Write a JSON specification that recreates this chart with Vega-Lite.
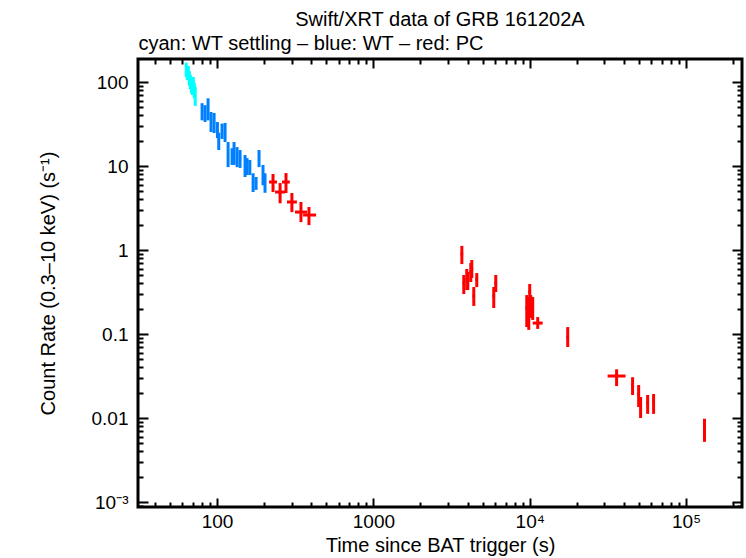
{
  "$schema": "https://vega.github.io/schema/vega-lite/v6.json",
  "width": 604,
  "height": 448,
  "autosize": "none",
  "padding": {"left": 138, "top": 59, "right": 4, "bottom": 51},
  "background": "white",
  "title": {
    "text": "Swift/XRT data of GRB 161202A",
    "anchor": "middle",
    "font": "Liberation Sans",
    "fontSize": 20,
    "fontWeight": "normal",
    "color": "black",
    "offset": 3
  },
  "data": {
    "values": [
      {"t": 63.5, "tlo": 62.6, "thi": 64.4, "r": 140, "rlo": 115, "rhi": 170, "mode": "WT settling"},
      {"t": 64.5, "tlo": 63.6, "thi": 65.4, "r": 125, "rlo": 105, "rhi": 150, "mode": "WT settling"},
      {"t": 65.5, "tlo": 64.6, "thi": 66.4, "r": 130, "rlo": 108, "rhi": 155, "mode": "WT settling"},
      {"t": 66.5, "tlo": 65.6, "thi": 67.4, "r": 110, "rlo": 90, "rhi": 135, "mode": "WT settling"},
      {"t": 67.5, "tlo": 66.6, "thi": 68.4, "r": 100, "rlo": 82, "rhi": 122, "mode": "WT settling"},
      {"t": 68.5, "tlo": 67.6, "thi": 69.4, "r": 92, "rlo": 74, "rhi": 112, "mode": "WT settling"},
      {"t": 69.5, "tlo": 68.6, "thi": 70.4, "r": 86, "rlo": 70, "rhi": 105, "mode": "WT settling"},
      {"t": 70.5, "tlo": 69.6, "thi": 71.4, "r": 95, "rlo": 78, "rhi": 115, "mode": "WT settling"},
      {"t": 71.5, "tlo": 70.6, "thi": 72.4, "r": 80, "rlo": 64, "rhi": 98, "mode": "WT settling"},
      {"t": 72.5, "tlo": 71.6, "thi": 73.4, "r": 70, "rlo": 52, "rhi": 88, "mode": "WT settling"},
      {"t": 80.2, "tlo": 79.0, "thi": 81.4, "r": 45, "rlo": 35, "rhi": 56, "mode": "WT"},
      {"t": 83.8, "tlo": 82.6, "thi": 85.0, "r": 42.8, "rlo": 33.4, "rhi": 53, "mode": "WT"},
      {"t": 87.6, "tlo": 86.3, "thi": 88.9, "r": 47.6, "rlo": 35, "rhi": 64, "mode": "WT"},
      {"t": 91.5, "tlo": 90.1, "thi": 92.9, "r": 33.4, "rlo": 25.4, "rhi": 44, "mode": "WT"},
      {"t": 95.7, "tlo": 94.3, "thi": 97.1, "r": 32.6, "rlo": 24.7, "rhi": 42.8, "mode": "WT"},
      {"t": 100.5, "tlo": 99.0, "thi": 102.0, "r": 26.8, "rlo": 21.5, "rhi": 33.4, "mode": "WT"},
      {"t": 102.5, "tlo": 101.0, "thi": 104.0, "r": 20.4, "rlo": 15.5, "rhi": 25, "mode": "WT"},
      {"t": 107.6, "tlo": 106.0, "thi": 109.2, "r": 26, "rlo": 21, "rhi": 32, "mode": "WT"},
      {"t": 112.5, "tlo": 110.8, "thi": 114.2, "r": 25.4, "rlo": 19.3, "rhi": 32.6, "mode": "WT"},
      {"t": 117.6, "tlo": 115.8, "thi": 119.4, "r": 13.5, "rlo": 9.7, "rhi": 19.3, "mode": "WT"},
      {"t": 124.7, "tlo": 122.8, "thi": 126.6, "r": 13.1, "rlo": 10.3, "rhi": 16.3, "mode": "WT"},
      {"t": 128.4, "tlo": 126.5, "thi": 130.3, "r": 14.3, "rlo": 10.3, "rhi": 19.3, "mode": "WT"},
      {"t": 134.3, "tlo": 132.3, "thi": 136.3, "r": 12.8, "rlo": 9.7, "rhi": 16.8, "mode": "WT"},
      {"t": 140.3, "tlo": 138.2, "thi": 142.4, "r": 12.1, "rlo": 9.5, "rhi": 15.5, "mode": "WT"},
      {"t": 151, "tlo": 148.7, "thi": 153.3, "r": 10, "rlo": 7.4, "rhi": 13.5, "mode": "WT"},
      {"t": 155.5, "tlo": 153.2, "thi": 157.8, "r": 10, "rlo": 7.8, "rhi": 12.4, "mode": "WT"},
      {"t": 162, "tlo": 159.6, "thi": 164.4, "r": 9.6, "rlo": 7.8, "rhi": 11.8, "mode": "WT"},
      {"t": 170, "tlo": 167.4, "thi": 172.6, "r": 6.45, "rlo": 4.9, "rhi": 8.2, "mode": "WT"},
      {"t": 177.6, "tlo": 174.9, "thi": 180.3, "r": 6.3, "rlo": 5.2, "rhi": 7.4, "mode": "WT"},
      {"t": 185.5, "tlo": 182.7, "thi": 188.3, "r": 12.8, "rlo": 9.7, "rhi": 15.5, "mode": "WT"},
      {"t": 196.7, "tlo": 193.7, "thi": 199.7, "r": 7.8, "rlo": 5.9, "rhi": 10.3, "mode": "WT"},
      {"t": 202.6, "tlo": 199.6, "thi": 205.6, "r": 6.3, "rlo": 4.8, "rhi": 8.2, "mode": "WT"},
      {"t": 228, "tlo": 215, "thi": 241.6, "r": 6.45, "rlo": 4.9, "rhi": 8.05, "mode": "PC"},
      {"t": 253, "tlo": 235, "thi": 272, "r": 4.9, "rlo": 3.6, "rhi": 6.27, "mode": "PC"},
      {"t": 276, "tlo": 260, "thi": 292, "r": 6.45, "rlo": 4.77, "rhi": 8.25, "mode": "PC"},
      {"t": 301, "tlo": 280, "thi": 324, "r": 3.73, "rlo": 2.83, "rhi": 4.77, "mode": "PC"},
      {"t": 344, "tlo": 315, "thi": 376, "r": 2.83, "rlo": 2.15, "rhi": 3.73, "mode": "PC"},
      {"t": 387, "tlo": 355, "thi": 430, "r": 2.61, "rlo": 1.98, "rhi": 3.25, "mode": "PC"},
      {"t": 3680, "tlo": 3610, "thi": 3750, "r": 0.896, "rlo": 0.68, "rhi": 1.12, "mode": "PC"},
      {"t": 3787, "tlo": 3715, "thi": 3860, "r": 0.405, "rlo": 0.299, "rhi": 0.504, "mode": "PC"},
      {"t": 3956, "tlo": 3880, "thi": 4030, "r": 0.44, "rlo": 0.334, "rhi": 0.594, "mode": "PC"},
      {"t": 4017, "tlo": 3940, "thi": 4095, "r": 0.428, "rlo": 0.334, "rhi": 0.547, "mode": "PC"},
      {"t": 4197, "tlo": 4115, "thi": 4280, "r": 0.547, "rlo": 0.416, "rhi": 0.70, "mode": "PC"},
      {"t": 4260, "tlo": 4175, "thi": 4345, "r": 0.594, "rlo": 0.464, "rhi": 0.76, "mode": "PC"},
      {"t": 4387, "tlo": 4300, "thi": 4475, "r": 0.283, "rlo": 0.216, "rhi": 0.363, "mode": "PC"},
      {"t": 4584, "tlo": 4495, "thi": 4675, "r": 0.45, "rlo": 0.362, "rhi": 0.532, "mode": "PC"},
      {"t": 5888, "tlo": 5770, "thi": 6005, "r": 0.283, "rlo": 0.204, "rhi": 0.363, "mode": "PC"},
      {"t": 6064, "tlo": 5945, "thi": 6185, "r": 0.405, "rlo": 0.316, "rhi": 0.504, "mode": "PC"},
      {"t": 9574, "tlo": 9385, "thi": 9765, "r": 0.204, "rlo": 0.121, "rhi": 0.291, "mode": "PC"},
      {"t": 9860, "tlo": 9665, "thi": 10055, "r": 0.178, "rlo": 0.112, "rhi": 0.276, "mode": "PC"},
      {"t": 10000, "tlo": 9800, "thi": 10200, "r": 0.316, "rlo": 0.24, "rhi": 0.394, "mode": "PC"},
      {"t": 10150, "tlo": 9950, "thi": 10350, "r": 0.222, "rlo": 0.155, "rhi": 0.291, "mode": "PC"},
      {"t": 10450, "tlo": 10245, "thi": 10655, "r": 0.204, "rlo": 0.147, "rhi": 0.276, "mode": "PC"},
      {"t": 11250, "tlo": 10450, "thi": 12100, "r": 0.135, "rlo": 0.115, "rhi": 0.159, "mode": "PC"},
      {"t": 17500, "tlo": 17150, "thi": 17850, "r": 0.092, "rlo": 0.070, "rhi": 0.121, "mode": "PC"},
      {"t": 35960, "tlo": 31480, "thi": 41040, "r": 0.0316, "rlo": 0.024, "rhi": 0.038, "mode": "PC"},
      {"t": 45500, "tlo": 44600, "thi": 46400, "r": 0.024, "rlo": 0.0188, "rhi": 0.0306, "mode": "PC"},
      {"t": 49750, "tlo": 48750, "thi": 50750, "r": 0.0193, "rlo": 0.0135, "rhi": 0.0247, "mode": "PC"},
      {"t": 51200, "tlo": 50200, "thi": 52200, "r": 0.0143, "rlo": 0.0100, "rhi": 0.0178, "mode": "PC"},
      {"t": 56800, "tlo": 55700, "thi": 57900, "r": 0.0151, "rlo": 0.0112, "rhi": 0.0188, "mode": "PC"},
      {"t": 62000, "tlo": 60800, "thi": 63200, "r": 0.0155, "rlo": 0.0112, "rhi": 0.0193, "mode": "PC"},
      {"t": 131200, "tlo": 128600, "thi": 133800, "r": 0.0074, "rlo": 0.0052, "rhi": 0.0098, "mode": "PC"}
    ]
  },
  "layer": [
    {
      "mark": {"type": "rule", "strokeWidth": 3},
      "encoding": {
        "x": {
          "field": "t",
          "type": "quantitative",
          "scale": {"type": "log", "domain": [31.2, 228000], "nice": false},
          "axis": {
            "orient": "bottom",
            "title": "Time since BAT trigger (s)",
            "values": [40, 50, 60, 70, 80, 90, 100, 200, 300, 400, 500, 600, 700, 800, 900, 1000, 2000, 3000, 4000, 5000, 6000, 7000, 8000, 9000, 10000, 20000, 30000, 40000, 50000, 60000, 70000, 80000, 90000, 100000, 200000],
            "labelExpr": "datum.value == 100 ? '100' : datum.value == 1000 ? '1000' : datum.value == 10000 ? '10⁴' : datum.value == 100000 ? '10⁵' : ''",
            "tickSize": {"condition": {"test": "datum.value == 100 || datum.value == 1000 || datum.value == 10000 || datum.value == 100000", "value": -9}, "value": -5},
            "labelPadding": 14,
            "titlePadding": 0
          }
        },
        "y": {
          "field": "rlo",
          "type": "quantitative",
          "scale": {"type": "log", "domain": [0.000872, 188], "nice": false},
          "axis": {
            "orient": "left",
            "title": "Count Rate (0.3–10 keV) (s⁻¹)",
            "values": [0.0009, 0.001, 0.002, 0.003, 0.004, 0.005, 0.006, 0.007, 0.008, 0.009, 0.01, 0.02, 0.03, 0.04, 0.05, 0.06, 0.07, 0.08, 0.09, 0.1, 0.2, 0.3, 0.4, 0.5, 0.6, 0.7, 0.8, 0.9, 1, 2, 3, 4, 5, 6, 7, 8, 9, 10, 20, 30, 40, 50, 60, 70, 80, 90, 100],
            "labelExpr": "datum.value == 100 ? '100' : datum.value == 10 ? '10' : datum.value == 1 ? '1' : datum.value == 0.1 ? '0.1' : datum.value == 0.01 ? '0.01' : datum.value == 0.001 ? '10⁻³' : ''",
            "tickSize": {"condition": {"test": "datum.value == 100 || datum.value == 10 || datum.value == 1 || datum.value == 0.1 || datum.value == 0.01 || datum.value == 0.001", "value": -10}, "value": -5},
            "labelPadding": 20,
            "titlePadding": 33
          }
        },
        "y2": {"field": "rhi"},
        "color": {
          "field": "mode",
          "type": "nominal",
          "scale": {"domain": ["WT settling", "WT", "PC"], "range": ["#00ffff", "#0080ff", "#ff0000"]},
          "legend": null
        }
      }
    },
    {
      "mark": {"type": "rule", "strokeWidth": 3},
      "encoding": {
        "x": {
          "field": "tlo",
          "type": "quantitative",
          "axis": {
            "orient": "top",
            "title": "cyan: WT settling – blue: WT – red: PC",
            "titleAnchor": "start",
            "titleAlign": "left",
            "labels": false,
            "values": [40, 50, 60, 70, 80, 90, 100, 200, 300, 400, 500, 600, 700, 800, 900, 1000, 2000, 3000, 4000, 5000, 6000, 7000, 8000, 9000, 10000, 20000, 30000, 40000, 50000, 60000, 70000, 80000, 90000, 100000, 200000],
            "tickSize": {"condition": {"test": "datum.value == 100 || datum.value == 1000 || datum.value == 10000 || datum.value == 100000", "value": -9}, "value": -5},
            "titlePadding": 5
          }
        },
        "x2": {"field": "thi"},
        "y": {
          "field": "r",
          "type": "quantitative",
          "axis": {
            "orient": "right",
            "title": null,
            "labels": false,
            "values": [0.0009, 0.001, 0.002, 0.003, 0.004, 0.005, 0.006, 0.007, 0.008, 0.009, 0.01, 0.02, 0.03, 0.04, 0.05, 0.06, 0.07, 0.08, 0.09, 0.1, 0.2, 0.3, 0.4, 0.5, 0.6, 0.7, 0.8, 0.9, 1, 2, 3, 4, 5, 6, 7, 8, 9, 10, 20, 30, 40, 50, 60, 70, 80, 90, 100],
            "tickSize": {"condition": {"test": "datum.value == 100 || datum.value == 10 || datum.value == 1 || datum.value == 0.1 || datum.value == 0.01 || datum.value == 0.001", "value": -10}, "value": -5}
          }
        },
        "color": {"field": "mode", "type": "nominal", "legend": null}
      }
    }
  ],
  "resolve": {"axis": {"x": "independent", "y": "independent"}},
  "config": {
    "view": {"stroke": "black", "strokeWidth": 3},
    "axis": {
      "domain": false,
      "grid": false,
      "ticks": true,
      "tickColor": "black",
      "tickWidth": 2,
      "labelFont": "Liberation Sans",
      "labelFontSize": 19,
      "labelColor": "black",
      "labelFlush": false,
      "labelBound": false,
      "labelOverlap": false,
      "titleFont": "Liberation Sans",
      "titleFontSize": 20,
      "titleFontWeight": "normal",
      "titleColor": "black"
    }
  }
}
